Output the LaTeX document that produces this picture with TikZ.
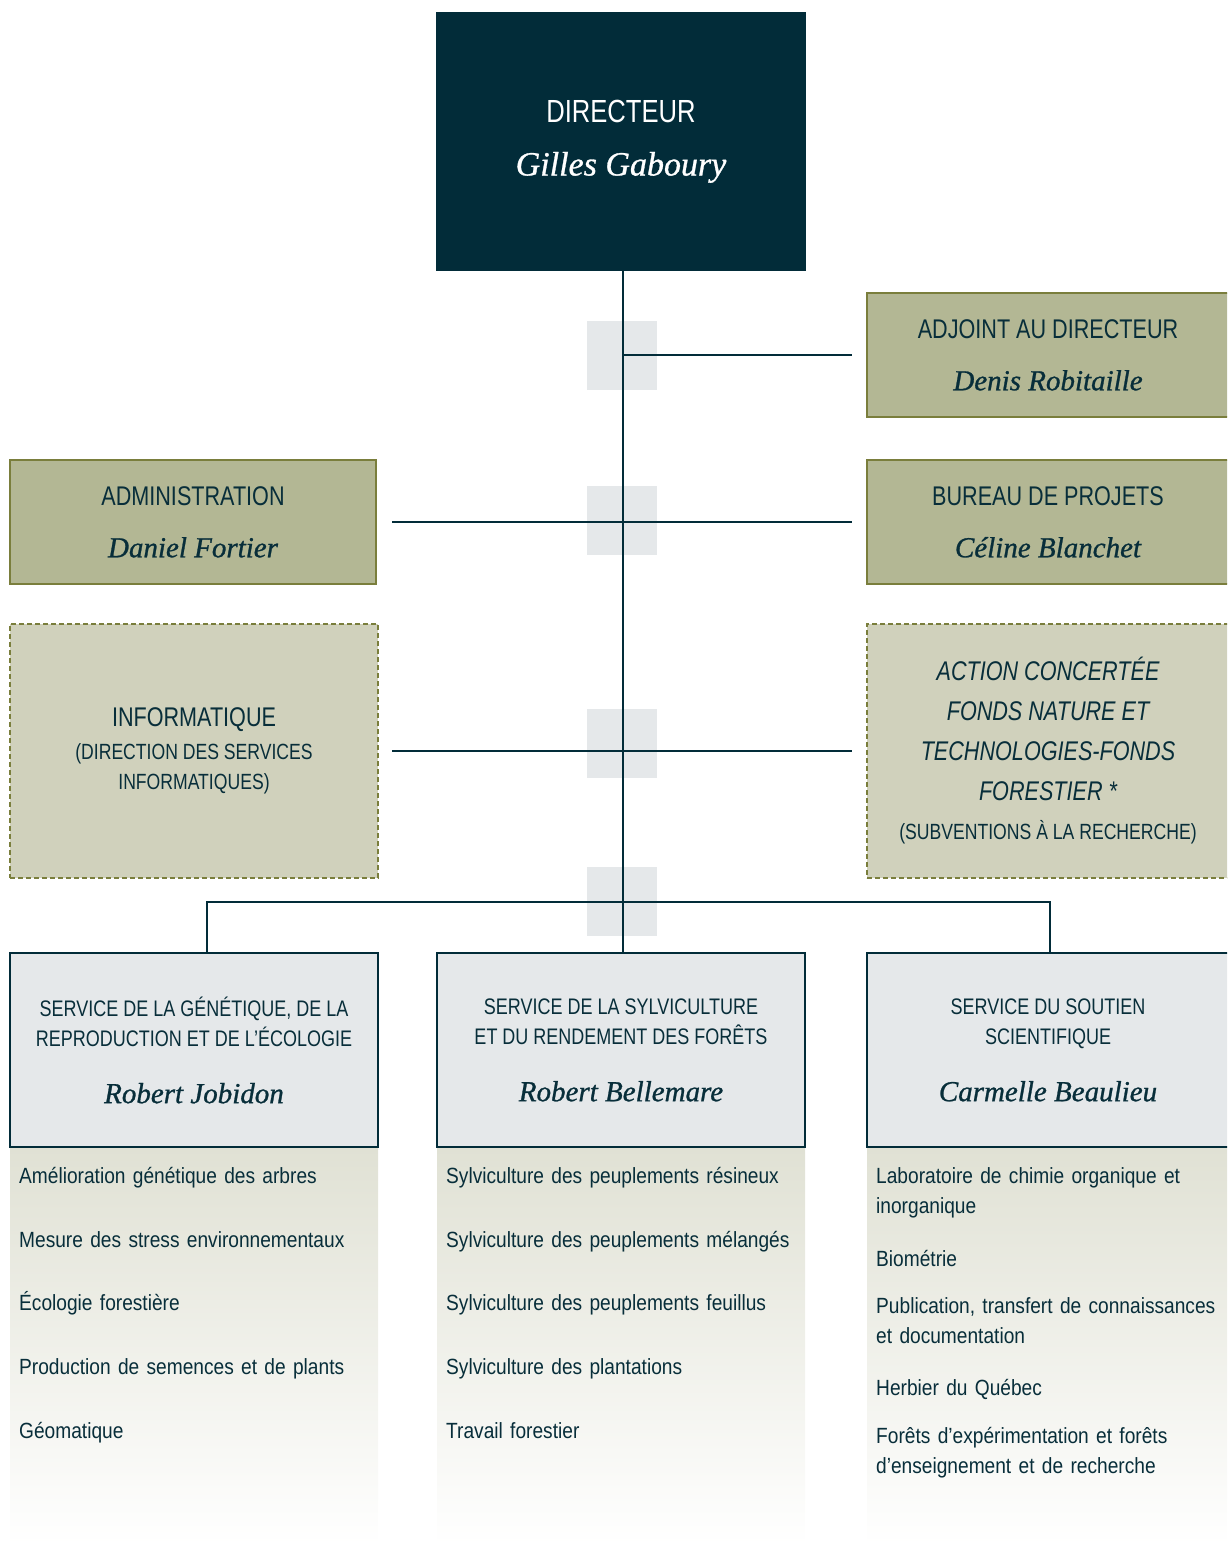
\documentclass[tikz,border=0pt]{standalone}
\usepackage{fontspec}
\setmainfont{Liberation Sans}[FakeStretch=0.8]
\newfontfamily\taskfont{Liberation Sans}[FakeStretch=0.87]
\newfontfamily\namefont{Liberation Serif}[ItalicFeatures={FakeBold=0.9}]

\definecolor{dirblue}{RGB}{2,44,57}
\definecolor{inkteal}{RGB}{8,46,58}
\definecolor{olivefill}{RGB}{179,183,148}
\definecolor{olivedraw}{RGB}{122,126,60}
\definecolor{dashfill}{RGB}{208,209,188}
\definecolor{greybox}{RGB}{229,232,234}
\definecolor{gradtop}{RGB}{224,225,212}

\newcommand{\who}[2][29]{{\namefont\itshape\fontsize{#1}{#1}\selectfont #2}}

\tikzset{
	link/.style={draw=dirblue, line width=2pt},
	knot/.style={fill=greybox},
	boss/.style={rectangle, fill=dirblue, text=white, inner sep=0pt, align=center,
		minimum width=370pt, minimum height=259pt, font=\fontsize{32}{36}\selectfont},
	unit/.style={rectangle, fill=olivefill, draw=olivedraw, line width=2pt, inner sep=0pt,
		align=center, text=inkteal, minimum height=124pt, font=\fontsize{27}{30}\selectfont},
	side/.style={unit, fill=dashfill, dash pattern=on 5pt off 3pt, minimum height=254pt},
	service/.style={rectangle, fill=greybox, draw=dirblue, line width=2pt, inner sep=0pt,
		align=center, text=inkteal, minimum height=194pt, font=\fontsize{22.5}{30}\selectfont},
	task/.style={anchor=base west, inner sep=0pt, align=left, text width=350pt,
		text=inkteal, font=\taskfont\fontsize{22}{30}\selectfont},
}

\begin{document}
\begin{tikzpicture}[x=1pt,y=-1pt]
	\useasboundingbox (0,0) rectangle (1227,1545);
	\clip (0,0) rectangle (1227,1545);

	% grey squares behind the spine
	\fill[knot] (587,321) rectangle ++(70,69);
	\fill[knot] (587,486) rectangle ++(70,69);
	\fill[knot] (587,709) rectangle ++(70,69);
	\fill[knot] (587,867) rectangle ++(70,69);

	% fading columns under the services
	\shade[top color=gradtop, bottom color=white] (10,1147) rectangle (378,1545);
	\shade[top color=gradtop, bottom color=white] (437,1147) rectangle (805,1545);
	\shade[top color=gradtop, bottom color=white] (867,1147) rectangle (1227,1545);

	% boxes
	\node[boss] (dir) at (621,141.5) {DIRECTEUR\\[17pt]\who[34]{Gilles Gaboury}};
	\node[unit, minimum width=362pt] (adj) at (1048,355) {ADJOINT AU DIRECTEUR\\[22pt]\who{Denis Robitaille}};
	\node[unit, minimum width=366pt] (admin) at (193,522) {ADMINISTRATION\\[22pt]\who{Daniel Fortier}};
	\node[unit, minimum width=362pt] (bureau) at (1048,522) {BUREAU DE PROJETS\\[22pt]\who{Céline Blanchet}};
	\node[side, minimum width=368pt] (info) at (194,751) {INFORMATIQUE\\[3pt]
		{\fontsize{22}{32}\selectfont (DIRECTION DES SERVICES}\\
		{\fontsize{22}{32}\selectfont INFORMATIQUES)}};
	\node[side, minimum width=362pt, font=\fontsize{27}{40}\selectfont\itshape] (fonds) at (1048,751)
		{ACTION CONCERTÉE\\FONDS NATURE ET\\TECHNOLOGIES-FONDS\\FORESTIER *\\[-1pt]
		{\upshape\fontsize{22}{30}\selectfont (SUBVENTIONS À LA RECHERCHE)}};

	\node[service, minimum width=368pt] (gen) at (194,1050)
		{SERVICE DE LA GÉNÉTIQUE, DE LA\\REPRODUCTION ET DE L’ÉCOLOGIE\\[27pt]\who{Robert Jobidon}};
	\node[service, minimum width=368pt] (syl) at (621,1050)
		{SERVICE DE LA SYLVICULTURE\\ET DU RENDEMENT DES FORÊTS\\[27pt]\who{Robert Bellemare}};
	\node[service, minimum width=362pt] (sout) at (1048,1050)
		{SERVICE DU SOUTIEN\\SCIENTIFIQUE\\[27pt]\who{Carmelle Beaulieu}};

	% connectors
	\draw[link] ([xshift=2pt]dir.south) -- ([xshift=2pt]syl.north);
	\draw[link] ([xshift=2pt]dir.south |- adj.west) -- ([xshift=-14pt]adj.west);
	\draw[link] ([xshift=15pt]admin.east) -- ([xshift=-14pt]bureau.west);
	\draw[link] ([xshift=13pt]info.east) -- ([xshift=-14pt]fonds.west);
	\coordinate (barL) at (207,902);
	\coordinate (barR) at (1050,902);
	\draw[link] (gen.north -| barL) -- (barL) -- (barR) -- (barR |- sout.north);

	% tasks of each service
	\node[task] (gen1) at (19,1183) {Amélioration génétique des arbres};
	\node[task] (gen2) at (19,1247) {Mesure des stress environnementaux};
	\node[task] (gen3) at (19,1310) {Écologie forestière};
	\node[task] (gen4) at (19,1374) {Production de semences et de plants};
	\node[task] (gen5) at (19,1438) {Géomatique};

	\node[task] (syl1) at (446,1183) {Sylviculture des peuplements résineux};
	\node[task] (syl2) at (446,1247) {Sylviculture des peuplements mélangés};
	\node[task] (syl3) at (446,1310) {Sylviculture des peuplements feuillus};
	\node[task] (syl4) at (446,1374) {Sylviculture des plantations};
	\node[task] (syl5) at (446,1438) {Travail forestier};

	\node[task] (sout1) at (876,1183) {Laboratoire de chimie organique et\\inorganique};
	\node[task] (sout2) at (876,1266) {Biométrie};
	\node[task] (sout3) at (876,1313) {Publication, transfert de connaissances\\et documentation};
	\node[task] (sout4) at (876,1395) {Herbier du Québec};
	\node[task] (sout5) at (876,1443) {Forêts d’expérimentation et forêts\\d’enseignement et de recherche};
\end{tikzpicture}
\end{document}
